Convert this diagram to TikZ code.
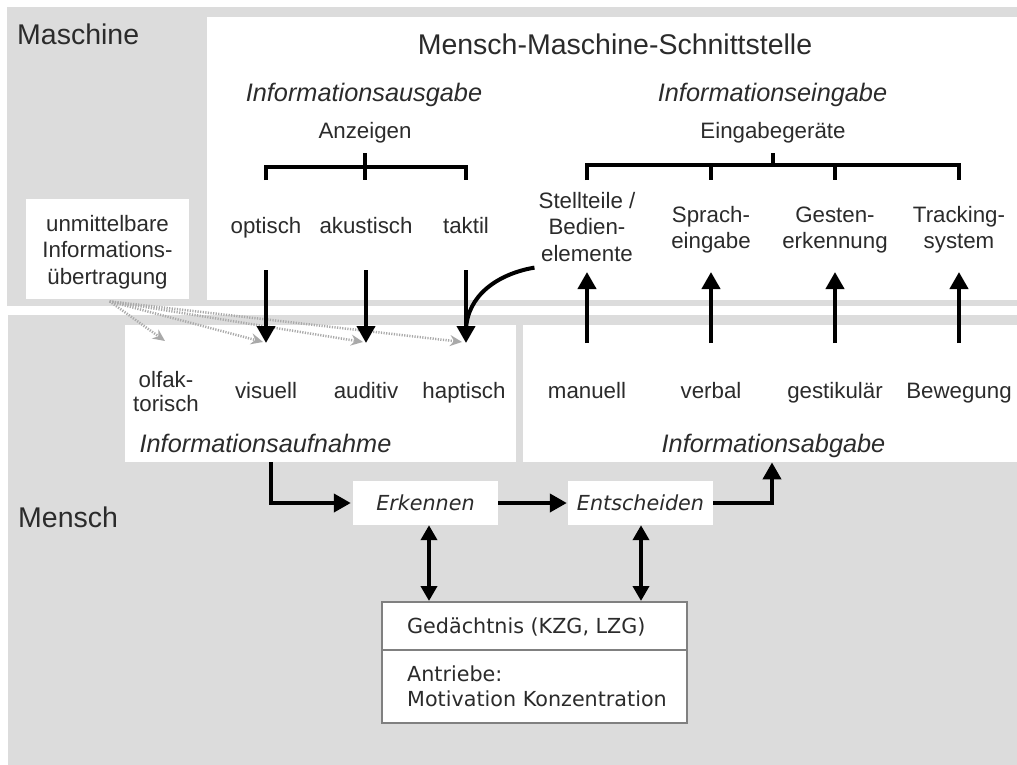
\documentclass[tikz,border=0pt]{standalone}
\usepackage{fontspec}
\setmainfont{Liberation Sans}
\newfontfamily\verdanalike{DejaVu Sans}[ItalicFont={DejaVu Sans Oblique}]
\usetikzlibrary{arrows.meta,calc}

\definecolor{panelgray}{HTML}{DCDCDC}
\definecolor{ink}{HTML}{2B2B2B}
\definecolor{dotgray}{HTML}{A9A9A9}
\definecolor{framegray}{HTML}{808080}

% centred / left-aligned line stacks whose baseline is the first line
\newcommand{\mlines}[1]{\begin{tabular}[t]{@{}c@{}}#1\end{tabular}}
\newcommand{\mlinesl}[1]{\begin{tabular}[t]{@{}l@{}}#1\end{tabular}}

\tikzset{
  panel/.style={fill=panelgray, draw=none, inner sep=0pt, anchor=north west},
  whitebox/.style={fill=white, draw=none, inner sep=0pt, anchor=north west},
  big/.style={font=\fontsize{28.5}{34}\selectfont, text=ink, inner sep=0pt},
  subhead/.style={font=\fontsize{25.3}{30}\selectfont\itshape, text=ink, inner sep=0pt, anchor=base},
  item/.style={font=\fontsize{22.3}{26.7}\selectfont, text=ink, inner sep=0pt, anchor=base},
  procbox/.style={fill=white, draw=none, inner sep=0pt, minimum width=145pt, minimum height=44pt,
                  font=\verdanalike\fontsize{20.7}{25}\selectfont\itshape, text=ink},
  membox/.style={fill=white, draw=framegray, line width=1.5pt, inner sep=0pt, anchor=north west,
                 minimum width=305pt, minimum height=121pt},
  memtext/.style={font=\verdanalike\fontsize{20.7}{25}\selectfont, text=ink, inner sep=0pt, anchor=base west},
  bracket/.style={draw=black, line width=3.5pt},
  arr/.style={draw=black, line width=4pt, -{Triangle[length=17pt,width=18pt]}},
  darr/.style={draw=black, line width=4pt, {Triangle[length=15pt,width=16pt]}-{Triangle[length=15pt,width=16pt]}},
  curvearr/.style={draw=black, line width=4pt},
  dotarr/.style={draw=dotgray, line width=2.5pt, dash pattern=on 1.2pt off 1.4pt,
                 -{Stealth[length=12pt,width=11pt,inset=4pt,fill=dotgray]}},
}

\begin{document}
\begin{tikzpicture}[x=1pt,y=-1pt]
\useasboundingbox (0,0) rectangle (1017,765);
\fill[white] (0,0) rectangle (1017,765);

% background areas
\node[panel, minimum width=1010pt, minimum height=299pt] (machine) at (7,7) {};
\node[panel, minimum width=1009pt, minimum height=450pt] (human) at (8,315) {};
\node[whitebox, minimum width=810pt, minimum height=283pt] (mmsbox) at (207,17) {};
\node[whitebox, minimum width=163pt, minimum height=100pt] (umbbox) at (26,199) {};
\node[whitebox, minimum width=391pt, minimum height=137pt] (aufbox) at (125,325) {};
\node[whitebox, minimum width=494pt, minimum height=137pt] (abgbox) at (523,325) {};

% region titles
\node[big, anchor=base west] (lblmachine) at (17,45) {Maschine};
\node[big, anchor=base west] (lblhuman) at (18,527) {Mensch};
\node[big, anchor=base] (title) at (615,55) {Mensch-Maschine-Schnittstelle};

% machine side: output
\node[subhead] (ausgabe) at (364,102) {Informationsausgabe};
\node[item] (anz) at (365,139) {Anzeigen};
\node[item] (opt) at (266,233) {optisch};
\node[item] (aku) at (366,233) {akustisch};
\node[item] (tak) at (466,233) {taktil};

% machine side: input
\node[subhead] (eingabe) at (772.5,102) {Informationseingabe};
\node[item] (eg) at (773,139) {Eingabegeräte};
\node[item] (stell) at (587,208) {\mlines{Stellteile /\\Bedien-\\elemente}};
\node[item] (sprach) at (711,222) {\mlines{Sprach-\\eingabe}};
\node[item] (gesten) at (835,222) {\mlines{Gesten-\\erkennung}};
\node[item] (track) at (959,222) {\mlines{Tracking-\\system}};

\node[item] (umb) at (107.5,231) {\mlines{unmittelbare\\Informations-\\übertragung}};

% human side: perception
\node[item, font=\fontsize{22.3}{24}\selectfont] (olf) at (166,387) {\mlines{olfak-\\torisch}};
\node[item] (vis) at (266,398) {visuell};
\node[item] (aud) at (366,398) {auditiv};
\node[item] (hap) at (464,398) {haptisch};
\node[subhead] (aufnahme) at (265.5,452) {Informationsaufnahme};

% human side: action
\node[item] (man) at (587,398) {manuell};
\node[item] (verb) at (711,398) {verbal};
\node[item] (gest) at (835,398) {gestikulär};
\node[item] (bew) at (959,398) {Bewegung};
\node[subhead] (abgabe) at (773.5,452) {Informationsabgabe};

% cognition
\node[procbox] (erk) at (425.5,503) {Erkennen};
\node[procbox] (ent) at (640.5,503) {Entscheiden};
\node[membox] (mem) at (381,601) {};
\draw[framegray, line width=1.5pt] (mem.west |- 0,650) -- (mem.east |- 0,650);
\node[memtext] (gedaechtnis) at (407,633) {Gedächtnis (KZG, LZG)};
\node[memtext] (antriebe) at (407,681) {\mlinesl{Antriebe:\\Motivation Konzentration}};

% brackets
\draw[bracket] (opt |- 0,180) -- (opt |- 0,167) -- (tak |- 0,167) -- (tak |- 0,180);
\draw[bracket] (anz |- 0,153) -- (anz |- 0,180);
\draw[bracket] (stell |- 0,180) -- (stell |- 0,165) -- (track |- 0,165) -- (track |- 0,180);
\draw[bracket] (sprach |- 0,165) -- (sprach |- 0,180);
\draw[bracket] (gesten |- 0,165) -- (gesten |- 0,180);
\draw[bracket] (eg |- 0,153) -- (eg |- 0,165);

% direct transfer (dotted)
\draw[dotarr] ([xshift=2pt,yshift=-2pt]umbbox.south) -- ($(olf |- 0,341)+(-1,0)$);
\draw[dotarr] ([xshift=2pt,yshift=-2pt]umbbox.south) -- ($(vis |- 0,342)+(-3,0)$);
\draw[dotarr] ([xshift=2pt,yshift=-2pt]umbbox.south) -- ($(aud |- 0,342)+(-3,0)$);
\draw[dotarr] ([xshift=2pt,yshift=-2pt]umbbox.south) -- ($(hap |- 0,342)+(-2,0)$);

% machine -> human
\draw[arr] (opt |- 0,270) -- (vis |- 0,343);
\draw[arr] (aku |- 0,270) -- (aud |- 0,343);
\draw[arr] (tak |- 0,270) -- (tak |- 0,343);
\draw[curvearr] ([xshift=-4pt,yshift=2pt]stell.south west) .. controls (497,274) and (467,296) .. (tak |- 0,330);

% human -> machine
\draw[arr] (man |- 0,343) -- (stell |- 0,272);
\draw[arr] (verb |- 0,343) -- (sprach |- 0,272);
\draw[arr] (gest |- 0,343) -- (gesten |- 0,272);
\draw[arr] (bew |- 0,343) -- (track |- 0,272);

% processing chain
\draw[arr, shorten >=2pt] (aufbox.south -| 271,0) |- (erk.west);
\draw[arr, shorten >=1pt] (erk.east) -- (ent.west);
\draw[arr] (ent.east) -| (abgbox.south -| 772,0);
\draw[darr] (erk.south -| 429,0) -- (mem.north -| 429,0);
\draw[darr] (ent.south -| 641,0) -- (mem.north -| 641,0);
\end{tikzpicture}
\end{document}
